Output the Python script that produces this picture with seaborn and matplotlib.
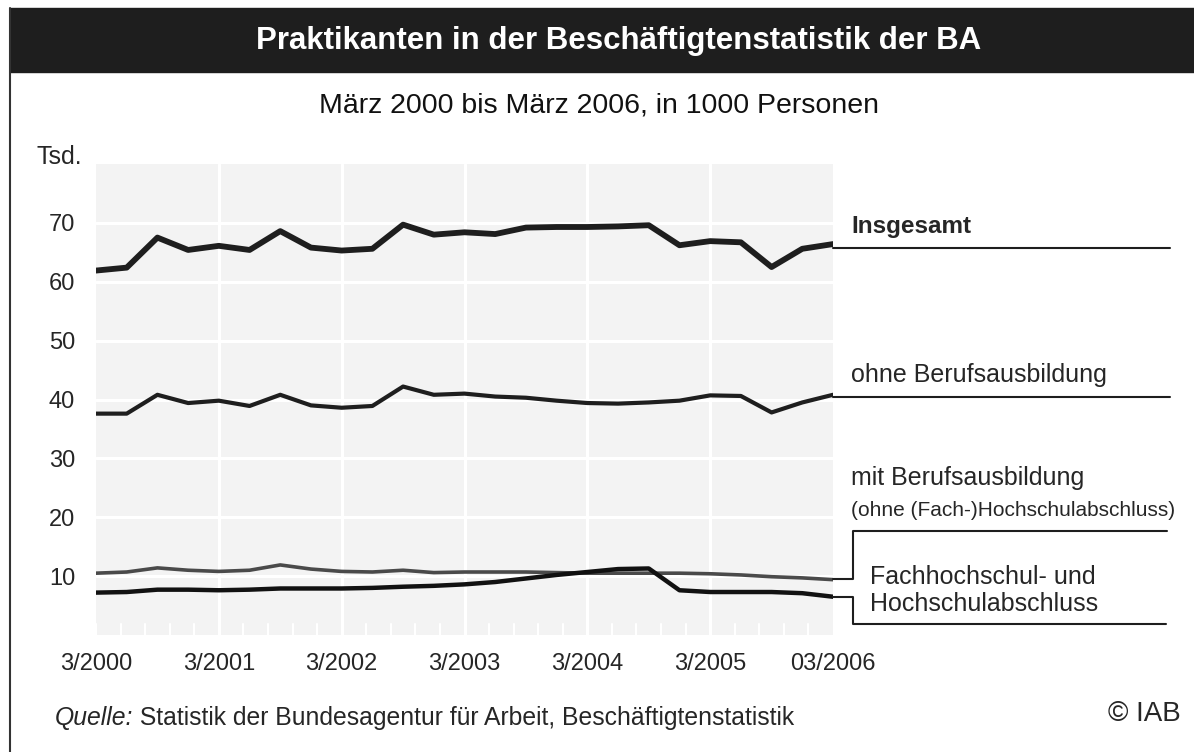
import matplotlib
matplotlib.use('Agg')
import matplotlib.pyplot as plt
import seaborn as sns
import numpy as np
from matplotlib.lines import Line2D
from matplotlib.patches import Rectangle

# quarterly values, 3/2000 .. 3/2006, in 1000 persons
quarters = list(range(25))
year_labels = ['3/2000', '3/2001', '3/2002', '3/2003', '3/2004', '3/2005', '03/2006']
insgesamt = [61.9, 62.4, 67.5, 65.4, 66.1, 65.4, 68.6, 65.8, 65.3, 65.6, 69.7, 68.0, 68.4,
             68.1, 69.2, 69.3, 69.3, 69.4, 69.6, 66.2, 66.9, 66.7, 62.5, 65.6, 66.4]
ohne_ausb = [37.6, 37.6, 40.8, 39.4, 39.8, 38.9, 40.8, 39.0, 38.6, 38.9, 42.2, 40.8, 41.0,
             40.5, 40.3, 39.8, 39.4, 39.3, 39.5, 39.8, 40.7, 40.6, 37.8, 39.5, 40.8]
mit_ausb = [10.5, 10.7, 11.4, 11.0, 10.8, 11.0, 11.9, 11.2, 10.8, 10.7, 11.0, 10.6, 10.7,
            10.7, 10.7, 10.6, 10.5, 10.5, 10.5, 10.5, 10.4, 10.2, 9.9, 9.7, 9.4]
hochschule = [7.2, 7.3, 7.7, 7.7, 7.6, 7.7, 7.9, 7.9, 7.9, 8.0, 8.2, 8.35, 8.6,
              9.0, 9.6, 10.2, 10.7, 11.2, 11.3, 7.6, 7.3, 7.3, 7.3, 7.1, 6.5]
y_ticks = [10, 20, 30, 40, 50, 60, 70]

W, H = 1194, 752
sns.set_theme(style='white')
plt.rcParams['font.family'] = ['Liberation Sans', 'DejaVu Sans']

fig = plt.figure(figsize=(W / 100, H / 100), dpi=100)


def fx(x):
    return x / W


def fy(y):
    return 1 - y / H


# frame + title band
fig.add_artist(Line2D([fx(10), fx(10)], [fy(8), 0], color='#333333', lw=1.5, transform=fig.transFigure))
fig.add_artist(Rectangle((fx(10), fy(72)), 1 - fx(10), (72 - 8) / H, color='#1e1e1e',
                         transform=fig.transFigure))
fig.text(fx(619), fy(41), 'Praktikanten in der Beschäftigtenstatistik der BA', color='white',
         fontsize=22.5, fontweight='bold', ha='center', va='center')
fig.text(fx(599), fy(106), 'März 2000 bis März 2006, in 1000 Personen', fontsize=20.5,
         ha='center', va='center', color='#111111')

ax = fig.add_axes([fx(96), fy(635), (833 - 96) / W, (635 - 164) / H])
ax.set_facecolor('#f3f3f3')
for v in y_ticks:
    ax.axhline(v, color='white', lw=2.2, zorder=1)
for q in range(4, 24, 4):
    ax.axvline(q, color='white', lw=2.2, zorder=1)
# small ticks along the bottom
for t in np.arange(0, 24, 0.8):
    ax.plot([t, t], [0, 1.8], color='white', lw=1.5, zorder=1)

sns.lineplot(x=quarters, y=insgesamt, ax=ax, color='#1e1e1e', lw=4.2, zorder=5)
sns.lineplot(x=quarters, y=ohne_ausb, ax=ax, color='#1e1e1e', lw=3.0, zorder=5)
sns.lineplot(x=quarters, y=mit_ausb, ax=ax, color='#4a4a4a', lw=2.6, zorder=4)
sns.lineplot(x=quarters, y=hochschule, ax=ax, color='#111111', lw=3.2, zorder=5)

ax.set_xlim(0, 24)
ax.set_ylim(0, 80)
ax.set_xticks(range(0, 25, 4))
ax.set_xticklabels(year_labels, fontsize=17)
ax.set_yticks(y_ticks)
ax.set_yticklabels([str(v) for v in y_ticks], fontsize=17)
ax.tick_params(length=0, pad=13)
ax.tick_params(axis='y', pad=15)
for s in ax.spines.values():
    s.set_visible(False)
fig.text(fx(82), fy(157), 'Tsd.', fontsize=18, ha='right', va='center')

# labels and leader lines
lk = dict(color='#1e1e1e', lw=1.5, transform=fig.transFigure)
fig.add_artist(Line2D([fx(833), fx(1170)], [fy(248), fy(248)], **lk))
fig.add_artist(Line2D([fx(833), fx(1170)], [fy(397), fy(397)], **lk))
fig.add_artist(Line2D([fx(833), fx(853), fx(853), fx(1167)],
                      [fy(579), fy(579), fy(531), fy(531)], **lk))
fig.add_artist(Line2D([fx(833), fx(853), fx(853), fx(1166)],
                      [fy(597), fy(597), fy(624), fy(624)], **lk))
fig.text(fx(851), fy(227), 'Insgesamt', fontsize=17.5, fontweight='bold', va='center')
fig.text(fx(851), fy(375), 'ohne Berufsausbildung', fontsize=18, va='center')
fig.text(fx(851), fy(478), 'mit Berufsausbildung', fontsize=18, va='center')
fig.text(fx(851), fy(510), '(ohne (Fach-)Hochschulabschluss)', fontsize=15, va='center')
fig.text(fx(870), fy(577), 'Fachhochschul- und', fontsize=18, va='center')
fig.text(fx(870), fy(604), 'Hochschulabschluss', fontsize=18, va='center')

# footer
q = fig.text(fx(55), fy(718), 'Quelle:', fontsize=17.8, style='italic', va='center')
ax.annotate(' Statistik der Bundesagentur für Arbeit, Beschäftigtenstatistik',
            xy=(1, 0.5), xycoords=q, fontsize=17.8, va='center', ha='left',
            annotation_clip=False)
fig.text(fx(1181), fy(714), '© IAB', fontsize=20, ha='right', va='center')

fig.savefig('out.png', dpi=100)
